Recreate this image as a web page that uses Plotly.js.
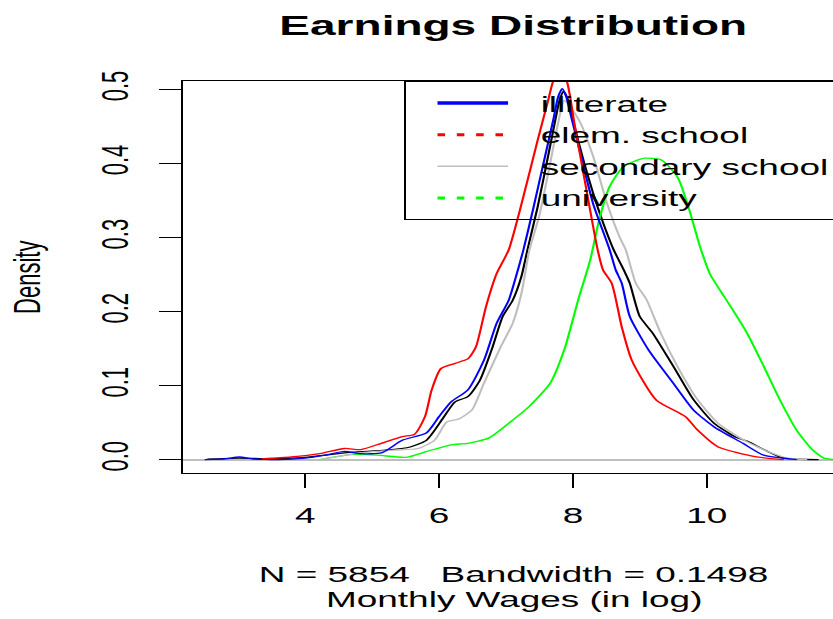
<!DOCTYPE html>
<html>
<head>
<meta charset="utf-8">
<script src="https://cdn.plot.ly/plotly-3.0.1.min.js"></script>
<style>
  html, body { margin: 0; padding: 0; width: 833px; height: 619px; overflow: hidden; background: #fff; }
  #wrap { width: 505px; height: 619px; transform: scaleX(1.68); transform-origin: 0 0; }
</style>
</head>
<body>
<div id="wrap"><div id="chart"></div></div>
<script>
// ---- data ----
const totalX = [2.54, 3.0, 3.5, 4.0, 4.4, 4.71, 5.2, 5.57, 5.81, 6.06, 6.24, 6.43, 6.61, 6.80, 6.95, 7.10, 7.23, 7.32, 7.47, 7.63, 7.74, 7.80, 7.86, 7.93, 8.0, 8.17, 8.30, 8.45, 8.61, 8.76, 8.85, 9.0, 9.19, 9.50, 9.80, 10.11, 10.42, 10.60, 10.91, 11.15, 11.67];
const totalY = [0.0005, 0.002, 0.001, 0.003, 0.007, 0.010, 0.0127, 0.017, 0.026, 0.056, 0.078, 0.085, 0.107, 0.152, 0.193, 0.215, 0.247, 0.283, 0.34, 0.41, 0.46, 0.485, 0.497, 0.485, 0.458, 0.40, 0.36, 0.32, 0.283, 0.256, 0.238, 0.193, 0.171, 0.126, 0.081, 0.049, 0.031, 0.025, 0.011, 0.002, 0.0];

const illiterateX = [2.50, 2.8, 3.02, 3.2, 3.6, 4.0, 4.3, 4.59, 4.83, 5.14, 5.45, 5.81, 6.0, 6.18, 6.43, 6.67, 6.86, 7.04, 7.19, 7.26, 7.41, 7.56, 7.71, 7.78, 7.84, 7.90, 7.96, 8.11, 8.30, 8.55, 8.64, 8.73, 8.85, 9.13, 9.50, 9.80, 10.11, 10.54, 10.85, 11.34];
const illiterateY = [0.0, 0.001, 0.0035, 0.001, 0.0, 0.002, 0.006, 0.011, 0.008, 0.009, 0.026, 0.036, 0.058, 0.078, 0.094, 0.134, 0.184, 0.215, 0.26, 0.283, 0.34, 0.40, 0.46, 0.49, 0.501, 0.49, 0.468, 0.414, 0.346, 0.283, 0.256, 0.238, 0.193, 0.148, 0.103, 0.067, 0.044, 0.022, 0.006, 0.0];

const elemX = [3.35, 3.79, 4.22, 4.59, 4.83, 5.14, 5.45, 5.63, 5.79, 5.89, 6.03, 6.24, 6.43, 6.55, 6.70, 6.86, 7.04, 7.26, 7.47, 7.63, 7.71, 7.80, 7.90, 8.02, 8.17, 8.37, 8.45, 8.58, 8.73, 8.88, 9.25, 9.68, 9.86, 10.17, 10.72, 11.15];
const elemY = [0.001, 0.0035, 0.008, 0.015, 0.0135, 0.022, 0.031, 0.034, 0.058, 0.094, 0.123, 0.130, 0.136, 0.152, 0.206, 0.251, 0.283, 0.355, 0.43, 0.485, 0.512, 0.522, 0.513, 0.455, 0.38, 0.283, 0.256, 0.238, 0.179, 0.134, 0.080, 0.058, 0.040, 0.017, 0.004, 0.0];

const secondaryX = [4.22, 4.77, 5.32, 5.69, 5.93, 6.12, 6.30, 6.49, 6.67, 6.92, 7.10, 7.23, 7.35, 7.50, 7.66, 7.78, 7.87, 7.95, 8.11, 8.30, 8.51, 8.70, 8.79, 8.94, 9.10, 9.31, 9.56, 9.86, 10.17, 10.54, 10.91, 11.21, 11.5];
const secondaryY = [0.0, 0.0085, 0.0127, 0.015, 0.026, 0.051, 0.055, 0.067, 0.103, 0.152, 0.184, 0.224, 0.283, 0.33, 0.40, 0.455, 0.485, 0.478, 0.455, 0.41, 0.346, 0.30, 0.283, 0.238, 0.216, 0.171, 0.126, 0.081, 0.049, 0.027, 0.011, 0.002, 0.0];

const universityX = [4.22, 4.71, 5.08, 5.50, 5.82, 6.18, 6.43, 6.74, 7.04, 7.35, 7.66, 7.87, 8.08, 8.26, 8.39, 8.55, 8.76, 9.07, 9.31, 9.56, 9.74, 9.89, 10.05, 10.29, 10.60, 10.85, 11.09, 11.34, 11.58, 11.75, 11.9];
const universityY = [0.0, 0.007, 0.006, 0.003, 0.011, 0.020, 0.022, 0.029, 0.049, 0.072, 0.103, 0.148, 0.216, 0.27, 0.323, 0.369, 0.396, 0.407, 0.405, 0.382, 0.337, 0.29, 0.25, 0.216, 0.171, 0.126, 0.081, 0.040, 0.013, 0.002, 0.0];

const legendNames = ["illiterate", "elem. school", "secondary school", "university"];
const xTickVals = [4, 6, 8, 10];
const yTickVals = [0, 0.1, 0.2, 0.3, 0.4, 0.5];
const yTickText = ["0.0", "0.1", "0.2", "0.3", "0.4", "0.5"];
const titleText = "Earnings Distribution";
const subText = "N = 5854\u00a0\u00a0\u00a0Bandwidth = 0.1498";
const xLabel = "Monthly Wages (in log)";
const yLabel = "Density";

// ---- styling ----
const FONT = "Liberation Sans, Arial, Helvetica, sans-serif";
const C = { total: "#000000", illiterate: "#0000FF", elem: "#FF0000", secondary: "#BEBEBE", university: "#00FF00" };
const lw = 1.3;
// legend samples: visible part 42px, rest of the (wider) symbol slot left blank
const SOLID_SAMPLE = "42px,80px";
const DOT_SAMPLE = "4.5px,7px,4.5px,7px,4.5px,7px,4.5px,80px";

function curve(x, y, color, name) {
  return { x: x, y: y, type: "scatter", mode: "lines", name: name, showlegend: false,
           line: { color: color, width: lw, shape: "spline", smoothing: 0.6 }, hoverinfo: "x+y+name" };
}
function legendOnly(name, color, width, dash) {
  return { x: [null], y: [null], type: "scatter", mode: "lines", name: name, showlegend: true,
           line: { color: color, width: width, dash: dash }, hoverinfo: "skip" };
}

const traces = [
  curve(totalX, totalY, C.total, "all"),
  curve(universityX, universityY, C.university, legendNames[3]),
  curve(secondaryX, secondaryY, C.secondary, legendNames[2]),
  curve(illiterateX, illiterateY, C.illiterate, legendNames[0]),
  curve(elemX, elemY, C.elem, legendNames[1]),
  legendOnly(legendNames[0], C.illiterate, 3.5, SOLID_SAMPLE),
  legendOnly(legendNames[1], C.elem, 3, DOT_SAMPLE),
  legendOnly(legendNames[2], C.secondary, 1.6, SOLID_SAMPLE),
  legendOnly(legendNames[3], C.university, 3, DOT_SAMPLE)
];

const layout = {
  width: 505, height: 619,
  margin: { l: 108.9, r: 3.2, t: 81, b: 146.3, pad: 0 },
  paper_bgcolor: "#ffffff", plot_bgcolor: "#ffffff",
  font: { family: FONT, size: 22, color: "#000" },
  title: { text: titleText, font: { family: FONT, size: 27.4, weight: 700, color: "#000" },
           x: 0.5, xref: "paper", xanchor: "center", y: 1 - 25.5 / 619, yref: "container", yanchor: "middle" },
  xaxis: { range: [2.177, 12.04], tickvals: xTickVals, ticktext: xTickVals.map(String), ticks: "outside", ticklen: 14,
           tickwidth: 1, tickcolor: "#000", showgrid: false, zeroline: false, showline: true, mirror: true,
           linecolor: "#000", linewidth: 1.3, tickfont: { family: FONT, size: 22 }, ticklabelstandoff: 8,
           fixedrange: true },
  yaxis: { range: [-0.0181, 0.5112], tickvals: yTickVals, ticktext: yTickText, ticks: "outside", ticklen: 13,
           tickwidth: 1, tickcolor: "#000", showgrid: false, zeroline: true, zerolinecolor: "#BEBEBE", zerolinewidth: 2,
           showline: true, mirror: true, linecolor: "#000", linewidth: 1.3, tickangle: -90,
           tickfont: { family: FONT, size: 22 }, ticklabelstandoff: 10, fixedrange: true },
  showlegend: true,
  legend: { x: 0.3344, y: 1, xanchor: "left", yanchor: "top", xref: "paper", yref: "paper",
            bordercolor: "#000", borderwidth: 1.3, bgcolor: "rgba(0,0,0,0)",
            font: { family: FONT, size: 22, color: "#000" }, itemwidth: 56.4, indentation: 13.7, tracegroupgap: 0 },
  annotations: [
    { text: subText, xref: "paper", yref: "paper", x: 0.5, y: 0, xanchor: "center", yanchor: "middle",
      yshift: -101.8, showarrow: false, font: { family: FONT, size: 22, color: "#000" } },
    { text: xLabel, xref: "paper", yref: "paper", x: 0.5, y: 0, xanchor: "center", yanchor: "middle",
      yshift: -126.8, showarrow: false, font: { family: FONT, size: 22, color: "#000" } },
    { text: yLabel, xref: "paper", yref: "paper", x: 0, y: 0.5, xanchor: "center", yanchor: "middle",
      xshift: -93.1, textangle: -90, showarrow: false, font: { family: FONT, size: 22, color: "#000" } }
  ]
};

Plotly.newPlot("chart", traces, layout, { displayModeBar: false, staticPlot: true });
</script>
</body>
</html>
